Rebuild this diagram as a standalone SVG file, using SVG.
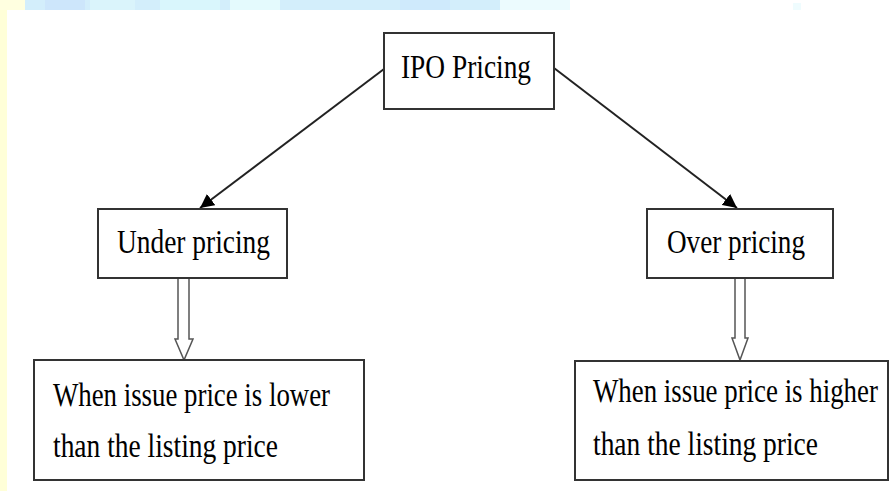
<svg xmlns="http://www.w3.org/2000/svg" width="891" height="491" viewBox="0 0 891 491">
<style>
.box{fill:#fff;stroke:#333;stroke-width:2}
.t{font-family:"Liberation Serif","Times New Roman",serif;font-size:33px;fill:#000}
.ln{stroke:#222;stroke-width:2;fill:none}
.hollow{fill:#fff;stroke:#555;stroke-width:1.5}
</style>
<defs>
<marker id="ah" viewBox="0 0 10 10" refX="10" refY="5" markerWidth="7" markerHeight="7" markerUnits="strokeWidth" orient="auto">
<path d="M0,0 L10,5 L0,10 z" fill="#000"/>
</marker>
</defs>
<rect width="891" height="491" fill="#fff"/>
<g id="background">
<rect x="0" y="0" width="7" height="491" fill="#ffffd8"/>
<rect x="0" y="0" width="25" height="10" fill="#ffffe0"/>
<rect x="25" y="0" width="475" height="10" fill="#d3eefb"/>
<rect x="45" y="0" width="40" height="10" fill="#cde6fb"/>
<rect x="90" y="0" width="45" height="10" fill="#daf4fb"/>
<rect x="160" y="0" width="60" height="10" fill="#d9f6fc"/>
<rect x="230" y="0" width="50" height="10" fill="#e4fafd"/>
<rect x="400" y="0" width="50" height="10" fill="#cfeafc"/>
<rect x="500" y="0" width="70" height="10" fill="#ecfbfe"/>
<rect x="793" y="3" width="8" height="7" fill="#effcfe"/>
</g>
<g id="connectors">
<line class="ln" x1="384" y1="69" x2="200" y2="208" marker-end="url(#ah)"/>
<line class="ln" x1="554" y1="68" x2="737" y2="208" marker-end="url(#ah)"/>
<polygon class="hollow" points="178,278 189,278 189,339 193,339 184,360 175,339 178,339"/>
<polygon class="hollow" points="735,278 745,278 745,338 748,338 740,360 732,338 735,338"/>
</g>
<g id="ipo">
<rect class="box" x="384" y="33" width="170" height="76"/>
<text class="t" x="401" y="78" textLength="130" lengthAdjust="spacingAndGlyphs">IPO Pricing</text>
</g>
<g id="under">
<rect class="box" x="98" y="209" width="189" height="69"/>
<text class="t" x="117" y="253" textLength="153" lengthAdjust="spacingAndGlyphs">Under pricing</text>
</g>
<g id="over">
<rect class="box" x="647" y="209" width="186" height="69"/>
<text class="t" x="667" y="253" textLength="138" lengthAdjust="spacingAndGlyphs">Over pricing</text>
</g>
<g id="lower">
<rect class="box" x="34" y="360" width="330" height="120"/>
<text class="t" x="53" y="406" textLength="277" lengthAdjust="spacingAndGlyphs">When issue price is lower</text>
<text class="t" x="53" y="457" textLength="225" lengthAdjust="spacingAndGlyphs">than the listing price</text>
</g>
<g id="higher">
<rect class="box" x="575" y="361" width="313" height="119"/>
<text class="t" transform="translate(593,402) scale(0.814,1)">When issue price is higher</text>
<text class="t" x="593" y="455" textLength="225" lengthAdjust="spacingAndGlyphs">than the listing price</text>
</g>
</svg>
